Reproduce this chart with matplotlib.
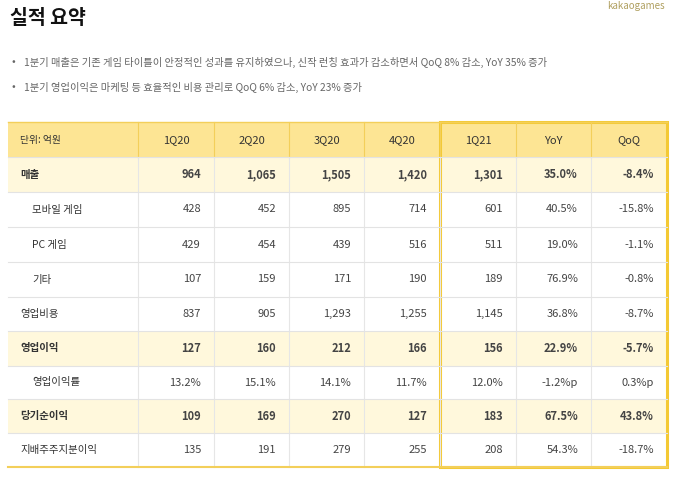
import matplotlib as mpl
mpl.use('Agg')
from matplotlib import pyplot as plt
from matplotlib.patches import Rectangle

plt.rcParams['font.family'] = ['Noto Sans CJK JP', 'Noto Sans CJK KR', 'Noto Sans CJK SC', 'DejaVu Sans']

title = '실적 요약'
bullets = [
    '1분기 매출은 기존 게임 타이틀이 안정적인 성과를 유지하였으나, 신작 런칭 효과가 감소하면서 QoQ 8% 감소, YoY 35% 증가',
    '1분기 영업이익은 마케팅 등 효율적인 비용 관리로 QoQ 6% 감소, YoY 23% 증가',
]
headers = ['단위: 억원', '1Q20', '2Q20', '3Q20', '4Q20', '1Q21', 'YoY', 'QoQ']
row_labels = ['매출', '모바일 게임', 'PC 게임', '기타', '영업비용', '영업이익',
              '영업이익률', '당기순이익', '지배주주지분이익']
indented = [False, True, True, True, False, False, True, False, False]
bold_rows = [True, False, False, False, False, True, False, True, False]
values = [
    ['964', '1,065', '1,505', '1,420', '1,301', '35.0%', '-8.4%'],
    ['428', '452', '895', '714', '601', '40.5%', '-15.8%'],
    ['429', '454', '439', '516', '511', '19.0%', '-1.1%'],
    ['107', '159', '171', '190', '189', '76.9%', '-0.8%'],
    ['837', '905', '1,293', '1,255', '1,145', '36.8%', '-8.7%'],
    ['127', '160', '212', '166', '156', '22.9%', '-5.7%'],
    ['13.2%', '15.1%', '14.1%', '11.7%', '12.0%', '-1.2%p', '0.3%p'],
    ['109', '169', '270', '127', '183', '67.5%', '43.8%'],
    ['135', '191', '279', '255', '208', '54.3%', '-18.7%'],
]

col_edges = [8, 138, 214, 289, 364, 440, 516, 591, 667]
row_edges = [122, 157, 192, 227, 262, 297, 331, 366, 399, 433, 467]

fig = plt.figure(figsize=(6.8, 4.79), dpi=100)
ax = fig.add_axes([0, 0, 1, 1])
ax.set_xlim(0, 680)
ax.set_ylim(479, 0)
ax.axis('off')

ax.text(10, 18, title, fontsize=14, fontweight='bold', va='center', ha='left', color='#111111')
ax.text(665, 1, 'kakaogames', fontsize=7, color='#b0a060', ha='right', va='top')
for i, b in enumerate(bullets):
    y = 62 + i * 25
    ax.text(12, y, '•', fontsize=8, color='#666666', va='center')
    ax.text(24, y, b, fontsize=7.4, color='#666666', va='center')

# header
ax.add_patch(Rectangle((col_edges[0], row_edges[0]), col_edges[-1] - col_edges[0],
                       row_edges[1] - row_edges[0], color='#fde594', lw=0))
for r, bold in enumerate(bold_rows):
    if bold:
        ax.add_patch(Rectangle((col_edges[0], row_edges[r + 1]), col_edges[-1] - col_edges[0],
                               row_edges[r + 2] - row_edges[r + 1], color='#fff8dc', lw=0))
for x in col_edges[1:-1]:
    ax.plot([x, x], [row_edges[0], row_edges[1]], color='#f3cf5a', lw=0.8)
    ax.plot([x, x], [row_edges[1], row_edges[-1]], color='#e6e6e6', lw=0.8)
for y in row_edges[1:-1]:
    ax.plot([col_edges[0], col_edges[-1]], [y, y], color='#e3e3e3', lw=0.8)
ax.plot([col_edges[0], col_edges[-1]], [row_edges[-1], row_edges[-1]], color='#f3cf5a', lw=1.5)
ax.plot([col_edges[0], col_edges[-1]], [row_edges[0], row_edges[0]], color='#f3cf5a', lw=1.0)

# highlight box around 1Q21 - QoQ
ax.add_patch(Rectangle((col_edges[5], row_edges[0]), col_edges[-1] - col_edges[5],
                       row_edges[-1] - row_edges[0], fill=False, ec='#f4c934', lw=2.2))

for c, h in enumerate(headers):
    cy = (row_edges[0] + row_edges[1]) / 2
    if c == 0:
        ax.text(col_edges[0] + 12, cy, h, fontsize=7, color='#333333', va='center')
    else:
        ax.text((col_edges[c] + col_edges[c + 1]) / 2, cy, h, fontsize=8,
                color='#333333', va='center_baseline', ha='center')

for r, label in enumerate(row_labels):
    cy = (row_edges[r + 1] + row_edges[r + 2]) / 2
    w = 'bold' if bold_rows[r] else 'normal'
    x0 = col_edges[0] + (24 if indented[r] else 12)
    ax.text(x0, cy, label, fontsize=7.5, color='#333333', va='center', fontweight=w)
    for c, v in enumerate(values[r]):
        ax.text(col_edges[c + 2] - 13, cy, v, fontsize=8, color='#444444',
                va='center', ha='right', fontweight=w)

fig.savefig('out.png', dpi=100)
